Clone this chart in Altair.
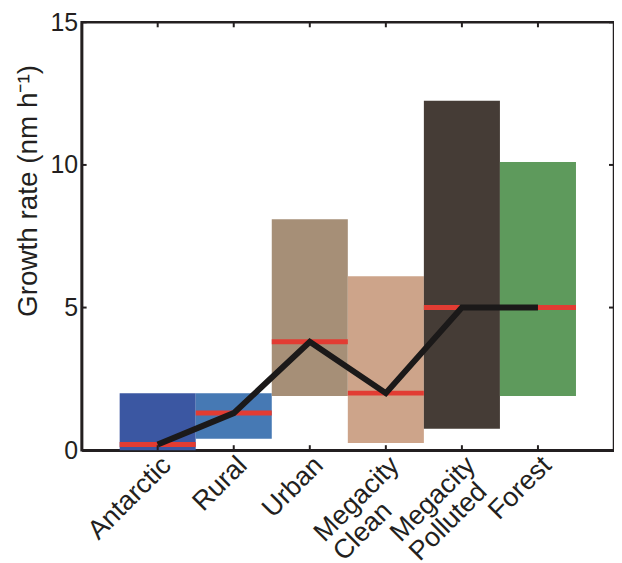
import altair as alt
import pandas as pd

# ---- data ----
categories = ["Antarctic", "Rural", "Urban", "Megacity Clean", "Megacity Polluted", "Forest"]
low_values = [0.0, 0.4, 1.9, 0.25, 0.75, 1.9]
high_values = [2.0, 2.0, 8.1, 6.1, 12.25, 10.1]
median_values = [0.2, 1.3, 3.8, 2.0, 5.0, 5.0]
bar_colors = ["#3b57a2", "#4679b4", "#a68f77", "#cda48a", "#453c36", "#5e9a5c"]
y_tick_values = [0, 5, 10, 15]
y_title = "Growth rate (nm h\u207b\u00b9)"

positions = list(range(1, len(categories) + 1))
df = pd.DataFrame({
    "cat": categories,
    "pos": positions,
    "low": low_values,
    "high": high_values,
    "median": median_values,
    "line1": [c.split(" ")[0] for c in categories],
    "line2": [" ".join(c.split(" ")[1:]) for c in categories],
})

FONT = "Liberation Sans"
INK = "#231f20"
W, H = 535, 430
LABEL_SIZE = 27
FIRST_WORD_W = 4.0 * LABEL_SIZE  # width of "Megacity" in Arial metrics

xscale = alt.Scale(domain=[0, 7], nice=False, zero=False)
yscale = alt.Scale(domain=[0, 15], nice=False, zero=False)

base = alt.Chart(df).transform_calculate(
    x0="datum.pos - 0.5", x1="datum.pos + 0.5"
)

x_axis = alt.Axis(
    values=positions, labels=False, title=None, grid=False, ticks=False,
    domainColor=INK, domainWidth=2.5,
)
y_axis = alt.Axis(
    values=y_tick_values, title=y_title, grid=False, ticks=False,
    labelFontSize=25, labelFont=FONT, labelColor=INK, labelPadding=4,
    titleFont=FONT, titleFontSize=28, titleFontWeight="normal", titleColor=INK,
    titleX=-53, titleY=169, titleBaseline="middle", titleAngle=270,
    domainColor=INK, domainWidth=2.5,
)

bars = base.mark_rect().encode(
    x=alt.X("x0:Q", scale=xscale, axis=x_axis),
    x2="x1:Q",
    y=alt.Y("low:Q", scale=yscale, axis=y_axis),
    y2="high:Q",
    color=alt.Color("cat:N", scale=alt.Scale(domain=categories, range=bar_colors), legend=None),
)

medians = base.mark_rule(color="#e23c33", strokeWidth=5).encode(
    x=alt.X("x0:Q", scale=xscale),
    x2="x1:Q",
    y=alt.Y("median:Q", scale=yscale),
)

trend = base.mark_line(color="#1b1919", strokeWidth=6, strokeJoin="miter", strokeCap="butt").encode(
    x=alt.X("pos:Q", scale=xscale),
    y=alt.Y("median:Q", scale=yscale),
    order="pos:Q",
)

label1 = alt.Chart(df).mark_text(
    angle=315, align="right", baseline="top", font=FONT, fontSize=LABEL_SIZE, color=INK
).encode(
    x=alt.X("pos:Q", scale=xscale), y=alt.value(H + 2), text="line1:N"
)
label2 = alt.Chart(df).transform_filter("datum.line2 != ''").mark_text(
    angle=315, align="left", baseline="top", font=FONT, fontSize=LABEL_SIZE, color=INK,
    dx=-FIRST_WORD_W, dy=LABEL_SIZE,
).encode(
    x=alt.X("pos:Q", scale=xscale), y=alt.value(H + 2), text="line2:N"
)

ydf = pd.DataFrame({"v": y_tick_values})
xdf = pd.DataFrame({"p": positions})

left_ticks = alt.Chart(ydf).mark_rule(color=INK, strokeWidth=2).encode(
    y=alt.Y("v:Q", scale=yscale), x=alt.value(0), x2=alt.value(5))
right_ticks = alt.Chart(ydf).mark_rule(color=INK, strokeWidth=2).encode(
    y=alt.Y("v:Q", scale=yscale), x=alt.value(W - 5), x2=alt.value(W))
top_ticks = alt.Chart(xdf).mark_rule(color=INK, strokeWidth=2).encode(
    x=alt.X("p:Q", scale=xscale), y=alt.value(0), y2=alt.value(5))
bottom_ticks = alt.Chart(xdf).mark_rule(color=INK, strokeWidth=2).encode(
    x=alt.X("p:Q", scale=xscale), y=alt.value(H - 5), y2=alt.value(H))

chart = alt.layer(
    bars, medians, trend, label1, label2,
    left_ticks, right_ticks, top_ticks, bottom_ticks
).properties(
    width=W, height=H,
    autosize=alt.AutoSizeParams(type="none"),
    padding={"left": 74, "top": 13, "right": 0, "bottom": 112},
).configure_view(
    stroke=INK, strokeWidth=2.5
)

chart.save("out.html", embed_options={"renderer": "svg", "actions": False})
